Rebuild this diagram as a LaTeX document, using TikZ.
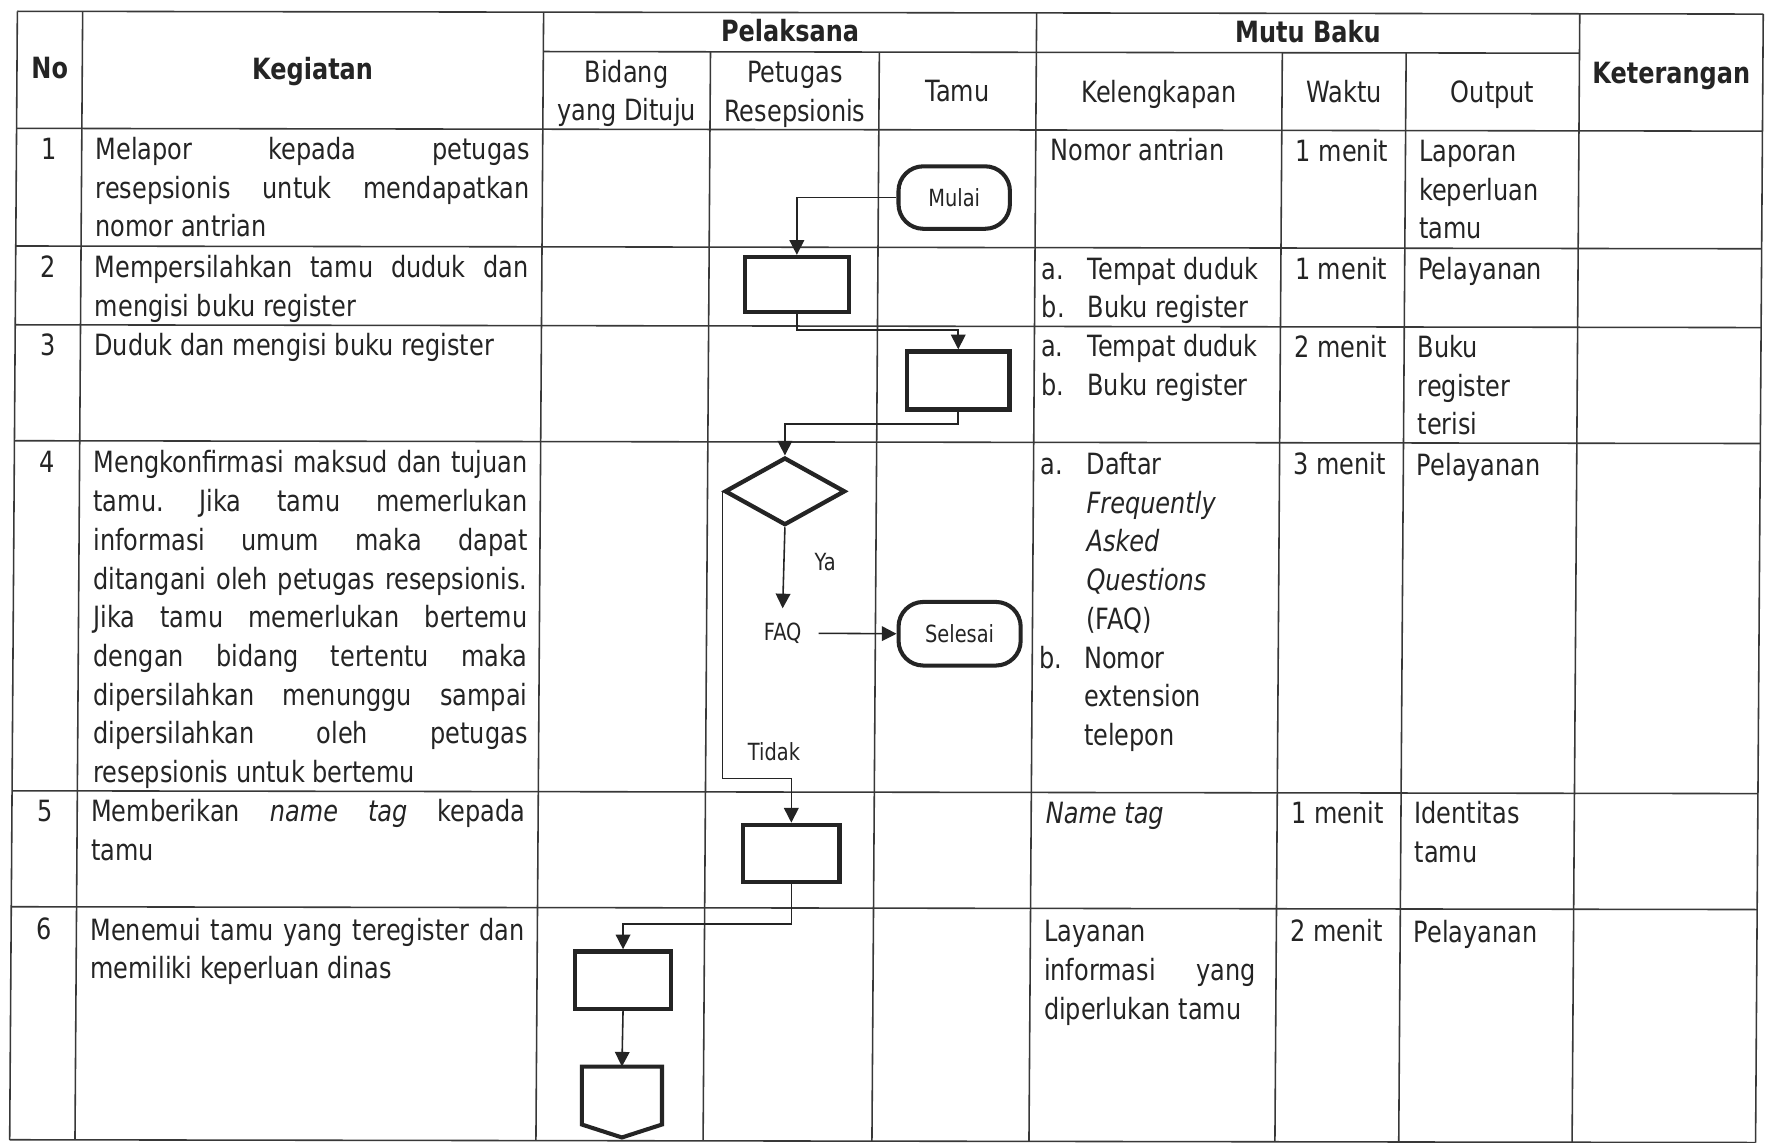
\documentclass[tikz,border=0pt]{standalone}
\usepackage{fontspec}
\setmainfont{DejaVu Sans}[FakeStretch=0.82]
\usetikzlibrary{arrows.meta,shapes.geometric,calc}
\definecolor{ink}{HTML}{242424}
\definecolor{rulec}{HTML}{383838}
\newcommand\bodyfont{\fontsize{26}{34.4}\selectfont}
\newcommand\chartfont{\fontsize{21}{25}\selectfont}
\setlength\parindent{0pt}
\frenchspacing
\hyphenpenalty=10000
\exhyphenpenalty=10000
\tolerance=10000
\tikzset{
  grid/.style={draw=rulec, line width=1.4pt},
  cell/.style={anchor=north west, inner sep=0pt, outer sep=0pt, font=\bodyfont, text=ink, align=left},
  para/.style={anchor=north west, inner sep=0pt, outer sep=0pt, font=\bodyfont, text=ink, text width=#1, align=justify},
  head/.style={anchor=north, inner sep=0pt, outer sep=0pt, font=\bodyfont, text=ink, align=center},
  bhead/.style={head, font=\bodyfont\bfseries},
  num/.style={anchor=north, inner sep=0pt, outer sep=0pt, font=\bodyfont, text=ink},
  proc/.style={draw=ink, line width=3.8pt, rectangle, inner sep=0pt, fill=white},
  term/.style={draw=ink, line width=3.6pt, rectangle, rounded corners=22pt, inner sep=0pt, font=\chartfont, text=ink},
  dec/.style={draw=ink, line width=3.8pt, diamond, inner sep=0pt, minimum width=107pt, minimum height=60pt},
  lbl/.style={inner sep=0pt, font=\chartfont, text=ink},
  conn/.style={draw=ink, line width=1.4pt, -{Triangle[width=13pt,length=13pt]}},
}
\begin{document}
\begin{tikzpicture}[x=1pt,y=-1pt]
\fill[white] (0,0) rectangle (1568,1015);
\useasboundingbox (0,0) rectangle (1568,1015);

\begin{scope}[cm={1,-0.0016,0.0068,1,(0,0)}]
% ---------- grid ----------
\draw[grid] (15.5,10) -- (1566.5,10);
\draw[grid] (483,45) -- (1403.5,45);
\foreach \yy in {114,218.5,288.5,391.5,702.5,805.5,1012.5}
  \draw[grid] (15.5,\yy) -- (1566.5,\yy);
\foreach \xx in {15.5,73.5,483,921,1403.5,1566.5}
  \draw[grid] (\xx,10) -- (\xx,1012.5);
\foreach \xx in {631.5,781.5,1139.5,1249.5}
  \draw[grid] (\xx,45) -- (\xx,1012.5);

% ---------- header ----------
\node[bhead] (hno) at (44.5,46) {\strut No};
\node[bhead] (hkeg) at (278,46) {\strut Kegiatan};
\node[bhead] (hpel) at (702,12) {\strut Pelaksana};
\node[bhead] (hmutu) at (1162,12) {\strut Mutu Baku};
\node[bhead] (hket) at (1485,48) {\strut Keterangan};
\node[head] (hbid) at (557,48) {\strut Bidang\\yang Dituju};
\node[head] (hpet) at (706.5,48) {\strut Petugas\\Resepsionis};
\node[head] (htamu) at (851,65) {\strut Tamu};
\node[head] (hkel) at (1030,65) {\strut Kelengkapan};
\node[head] (hwak) at (1194.5,65) {\strut Waktu};
\node[head] (hout) at (1326.5,65) {\strut Output};

% ---------- row 1 ----------
\node[num] (n1) at (44.5,117.4) {\strut 1};
\node[para=385.5pt] (k1) at (85.8,117.4) {\strut Melapor kepada petugas\linebreak resepsionis untuk mendapatkan\linebreak nomor antrian};
\node[cell] (l1) at (934,117.4) {\strut Nomor antrian};
\node[cell] (w1) at (1152,117.4) {\strut 1 menit};
\node[cell] (o1) at (1261.5,117.4) {\strut Laporan\\keperluan\\tamu};

% ---------- row 2 ----------
\node[num] (n2) at (44.5,222.4) {\strut 2};
\node[para=385.5pt] (k2) at (85.8,222.4) {\strut Mempersilahkan tamu duduk dan\linebreak mengisi buku register};
\node[cell] (l2a) at (927,222.4) {\strut a.\\b.};
\node[cell] (l2) at (968,222.4) {\strut Tempat duduk\\Buku register};
\node[cell] (w2) at (1152,222.4) {\strut 1 menit};
\node[cell] (o2) at (1261.5,222.4) {\strut Pelayanan};

% ---------- row 3 ----------
\node[num] (n3) at (44.5,291.4) {\strut 3};
\node[para=385.5pt] (k3) at (85.8,291.4) {\strut Duduk dan mengisi buku register};
\node[cell] (l3a) at (927,291.4) {\strut a.\\b.};
\node[cell] (l3) at (968,291.4) {\strut Tempat duduk\\Buku register};
\node[cell] (w3) at (1152,291.4) {\strut 2 menit};
\node[cell] (o3) at (1261.5,291.4) {\strut Buku\\register\\terisi};

% ---------- row 4 ----------
\node[num] (n4) at (44.5,395.9) {\strut 4};
\node[para=385.5pt] (k4) at (85.8,395.9) {\strut Mengkonfirmasi maksud dan tujuan\linebreak tamu. Jika tamu memerlukan\linebreak informasi umum maka dapat\linebreak ditangani oleh petugas resepsionis.\linebreak Jika tamu memerlukan bertemu\linebreak dengan bidang tertentu maka\linebreak dipersilahkan menunggu sampai\linebreak dipersilahkan oleh petugas\linebreak resepsionis untuk bertemu};
\node[cell] (l4a) at (927,395.9) {\strut a.};
\node[cell] (l4) at (968,395.9) {\strut Daftar\\\textit{Frequently}\\\textit{Asked}\\\textit{Questions}\\(FAQ)};
\node[cell] (l4b) at (927,567.9) {\strut b.};
\node[cell] (l4c) at (967,567.9) {\strut Nomor\\extension\\telepon};
\node[cell] (w4) at (1152,395.9) {\strut 3 menit};
\node[cell] (o4) at (1261.5,395.9) {\strut Pelayanan};

% ---------- row 5 ----------
\node[num] (n5) at (44.5,705.9) {\strut 5};
\node[para=385.5pt] (k5) at (85.8,705.9) {\strut Memberikan \textit{name tag} kepada\linebreak tamu};
\node[cell] (l5) at (934,705.9) {\strut \textit{Name tag}};
\node[cell] (w5) at (1152,705.9) {\strut 1 menit};
\node[cell] (o5) at (1261.5,705.9) {\strut Identitas\\tamu};

% ---------- row 6 ----------
\node[num] (n6) at (44.5,810.9) {\strut 6};
\node[para=385.5pt] (k6) at (85.8,810.9) {\strut Menemui tamu yang teregister dan\linebreak memiliki keperluan dinas};
\node[para=188pt] (l6) at (933,810.9) {\strut Layanan\linebreak informasi yang\linebreak diperlukan tamu};
\node[cell] (w6) at (1152,810.9) {\strut 2 menit};
\node[cell] (o6) at (1261.5,810.9) {\strut Pelayanan};
\end{scope}

% ---------- flowchart ----------
\node[term, minimum width=99pt, minimum height=55.5pt] (mulai) at (847.7,175.5) {Mulai};
\node[proc, minimum width=92.5pt, minimum height=49pt] (b2) at (707.9,252.8) {};
\node[proc, minimum width=91pt, minimum height=51.6pt] (b3) at (851.3,338) {};
\node[dec] (dia) at (697.3,436.5) {};
\node[lbl, minimum width=63.4pt, minimum height=44pt] (faq) at (695.3,562.6) {FAQ};
\node[lbl] (ya) at (733,499) {Ya};
\node[term, minimum width=108.5pt, minimum height=56.5pt] (selesai) at (852.5,563) {Selesai};
\node[lbl] (tidak) at (687.6,667.7) {Tidak};
\node[proc, minimum width=85.6pt, minimum height=51pt] (b5) at (703,758.2) {};
\node[proc, minimum width=85.6pt, minimum height=51pt] (b6) at (553.5,870.7) {};
\node[rectangle, inner sep=0pt, outer sep=0pt, minimum width=71.2pt, minimum height=51.5pt] (off) at (552.5,973.25) {};
\draw[draw=ink, line width=3.6pt] (off.north west) -- (off.south west) -- ($(off.south)+(0,11.5)$) -- (off.south east) -- (off.north east) -- cycle;

\draw[conn] (mulai.west) -| (b2.north);
\draw[conn] (b2.south) -- ++(0,14) -| (b3.north);
\draw[conn] (b3.south) -- ++(0,11) -| (dia.north);
\draw[conn] (dia.south) -- (faq.north);
\draw[conn] (faq.east) -- (selesai.west);
\draw[conn] (dia.west) -- ++(0,255) -| (b5.north);
\draw[conn] (b5.south) -- ++(0,35.5) -| (b6.north);
\draw[conn] (b6.south) -- (off.north);
\end{tikzpicture}
\end{document}
